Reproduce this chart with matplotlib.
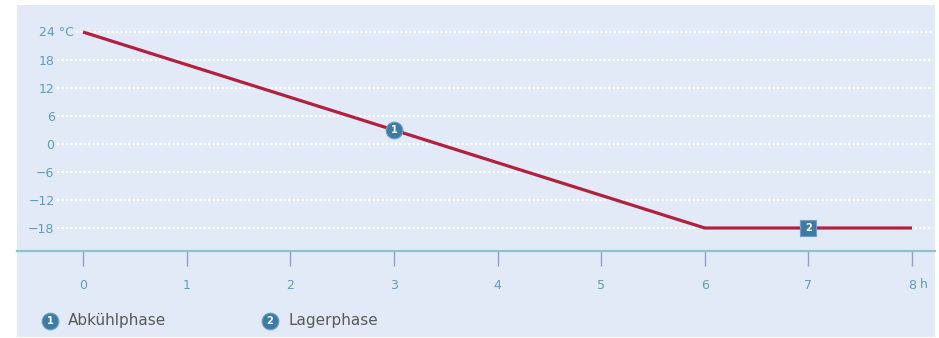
import matplotlib.pyplot as plt
from matplotlib.patches import Rectangle

# time in hours, temperature in degrees C
hours = [0, 6, 8]
temps = [24, -18, -18]

x_ticks = [0, 1, 2, 3, 4, 5, 6, 7, 8]
x_labels = ['0', '1', '2', '3', '4', '5', '6', '7', '8']
y_ticks = [-18, -12, -6, 0, 6, 12, 18, 24]
y_labels = ['\u221218', '\u221212', '\u22126', '0', '6', '12', '18', '']

phase_names = ['Abkühlphase', 'Lagerphase']
phase_x = [3, 7]
phase_y = [3, -18]
phase_marker = ['o', 's']

bg = '#e1eaf6'
line_color = '#b3203f'
badge_color = '#3b7ba6'
tick_color = '#5f9cc0'

fig = plt.figure(figsize=(9.39, 3.38), dpi=100)
W, H = 939, 338

# panel background behind plot and legend
fig.patches.append(Rectangle((17 / W, 1 - 337 / H), (935 - 17) / W, (337 - 5) / H,
                             transform=fig.transFigure, facecolor=bg,
                             edgecolor='none', zorder=-1))

ax = fig.add_axes([17 / W, 1 - 251 / H, (935 - 17) / W, (251 - 5) / H])
ax.set_zorder(2)
ax.patch.set_visible(False)
ax.set_xlim(-0.637, 8.222)
ax.set_ylim(-22.93, 29.79)

for s in ['top', 'right', 'left']:
    ax.spines[s].set_visible(False)
ax.spines['bottom'].set_color('#8fc2cc')
ax.spines['bottom'].set_linewidth(1.6)

# dotted white grid
for yv in y_ticks:
    x0 = -0.07 if yv == 24 else -0.25
    ax.hlines(yv, x0, 8.2, colors='white', linewidth=1.6,
              linestyles=(0, (1, 1)), zorder=1)

ax.set_xticks(x_ticks)
ax.set_xticklabels(x_labels)
ax.set_yticks(y_ticks)
ax.set_yticklabels(y_labels)
ax.tick_params(axis='x', direction='out', length=11, width=1, color='#8c9fd4',
               pad=9, labelsize=9, labelcolor=tick_color)
ax.tick_params(axis='y', length=0, pad=-27, labelsize=9, labelcolor=tick_color)

ax.text(-0.085, 24, '24 \u00b0C', ha='right', va='center', fontsize=9, color=tick_color)
ax.annotate('h', xy=(8, 0), xycoords=('data', 'axes fraction'),
            xytext=(6, -24), textcoords='offset points', ha='left', va='center',
            fontsize=9, color=tick_color, annotation_clip=False)

ax.plot(hours, temps, color=line_color, linewidth=2.3, zorder=3,
        solid_capstyle='butt')

for i, (px, py) in enumerate(zip(phase_x, phase_y)):
    ax.plot(px, py, marker=phase_marker[i], markersize=12 if i == 0 else 11,
            color=badge_color, markeredgecolor='#6f9fc2', markeredgewidth=0.8,
            zorder=4)
    ax.text(px, py, str(i + 1), ha='center', va='center', fontsize=7,
            fontweight='bold', color='white', zorder=5)

# legend row
legend_x = [50, 270]
for i, name in enumerate(phase_names):
    fx = legend_x[i] / W
    fy = 1 - 321 / H
    fig.lines.append(plt.Line2D([fx], [fy], marker='o', markersize=12,
                                color=badge_color, markeredgecolor='#6f9fc2',
                                markeredgewidth=0.8, transform=fig.transFigure))
    fig.text(fx, fy, str(i + 1), ha='center', va='center', fontsize=7,
             fontweight='bold', color='white')
    fig.text(fx + 18 / W, fy, name, ha='left', va='center', fontsize=11,
             color='#5a5a5a')

fig.savefig('out.png', dpi=100)
